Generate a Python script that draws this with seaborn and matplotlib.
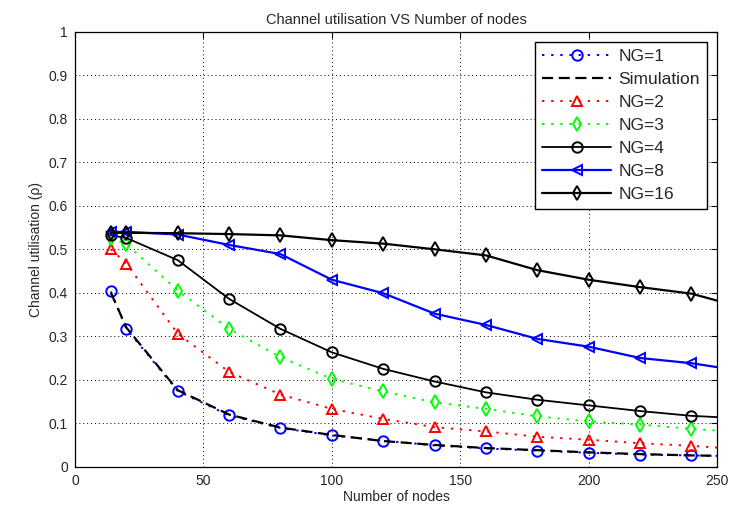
import matplotlib
matplotlib.use("Agg")
import matplotlib.pyplot as plt
import seaborn as sns
import numpy as np

nodes = [14, 20, 40, 60, 80, 100, 120, 140, 160, 180, 200, 220, 240, 250]
ng1 = [0.403, 0.317, 0.174, 0.118, 0.089, 0.072, 0.060, 0.049, 0.042, 0.037, 0.032, 0.028, 0.026, 0.025]
sim = [0.400, 0.320, 0.176, 0.120, 0.090, 0.073, 0.059, 0.050, 0.043, 0.038, 0.033, 0.029, 0.026, 0.025]
ng2 = [0.500, 0.467, 0.306, 0.218, 0.166, 0.133, 0.110, 0.091, 0.081, 0.069, 0.062, 0.054, 0.048, 0.044]
ng3 = [0.525, 0.512, 0.405, 0.317, 0.252, 0.202, 0.173, 0.148, 0.133, 0.116, 0.104, 0.097, 0.087, 0.083]
ng4 = [0.532, 0.526, 0.475, 0.386, 0.317, 0.263, 0.225, 0.196, 0.171, 0.154, 0.141, 0.128, 0.117, 0.114]
ng8 = [0.540, 0.540, 0.534, 0.510, 0.489, 0.430, 0.399, 0.352, 0.326, 0.294, 0.276, 0.250, 0.238, 0.229]
ng16 = [0.538, 0.538, 0.537, 0.535, 0.532, 0.521, 0.513, 0.500, 0.486, 0.452, 0.430, 0.413, 0.398, 0.382]

labels = ["NG=1", "Simulation", "NG=2", "NG=3", "NG=4", "NG=8", "NG=16"]
xticks = [0, 50, 100, 150, 200, 250]
yticks = [0, 0.1, 0.2, 0.3, 0.4, 0.5, 0.6, 0.7, 0.8, 0.9, 1]
ytick_labels = ["0", "0.1", "0.2", "0.3", "0.4", "0.5", "0.6", "0.7", "0.8", "0.9", "1"]

sns.set_theme(style="white")
plt.rcParams['font.family'] = ['Liberation Sans', 'DejaVu Sans']

fig = plt.figure(figsize=(7.33, 5.14), dpi=100)
ax = fig.add_axes([0.1023, 0.092, 0.876, 0.846])

mk = list(range(len(nodes) - 1))
dot = (0, (1.2, 3.5))
series = [
    (ng1, dict(color="#0000ff", linestyle=dot, marker="o", lw=1.4)),
    (sim, dict(color="black", linestyle=(0, (5, 2.5)), marker=None, lw=1.6)),
    (ng2, dict(color="#ff0000", linestyle=dot, marker="^", lw=1.4)),
    (ng3, dict(color="#00ff00", linestyle=dot, marker="d", lw=1.4)),
    (ng4, dict(color="black", linestyle="-", marker="o", lw=1.3)),
    (ng8, dict(color="#0000ff", linestyle="-", marker="<", lw=1.6)),
    (ng16, dict(color="black", linestyle="-", marker="d", lw=1.6)),
]
for (vals, st), lab in zip(series, labels):
    kw = dict(color=st["color"], linestyle=st["linestyle"], linewidth=st["lw"])
    if st["marker"]:
        kw.update(marker=st["marker"], markersize=7.5, markerfacecolor="none",
                  markeredgecolor=st["color"], markeredgewidth=1.4, markevery=mk)
    sns.lineplot(x=nodes, y=vals, ax=ax, label=lab, **kw)

ax.set_xlim(0, 250)
ax.set_ylim(0, 1)
ax.set_xticks(xticks)
ax.set_xticklabels([str(t) for t in xticks])
ax.set_yticks(yticks)
ax.set_yticklabels(ytick_labels)
ax.grid(True, color="black", linestyle=(0, (1, 3)), linewidth=0.7)
ax.tick_params(direction="in", top=True, right=True, length=4, color="black",
               labelsize=10, width=0.8, pad=5)
for s in ax.spines.values():
    s.set_color("black")
    s.set_linewidth(0.9)
ax.set_xlabel("Number of nodes", fontsize=10, labelpad=2)
ax.set_ylabel("Channel utilisation (\u03c1)", fontsize=10, labelpad=4)
ax.set_title("Channel utilisation VS Number of nodes", fontsize=10.5, pad=6)

leg = ax.legend(loc="upper right", fontsize=12.5, frameon=True, fancybox=False,
                edgecolor="black", framealpha=1, handlelength=4.0,
                borderpad=0.4, labelspacing=0.45, handletextpad=0.4,
                borderaxespad=0.6)
leg.get_frame().set_linewidth(1.0)

fig.savefig("out.png", dpi=100)
